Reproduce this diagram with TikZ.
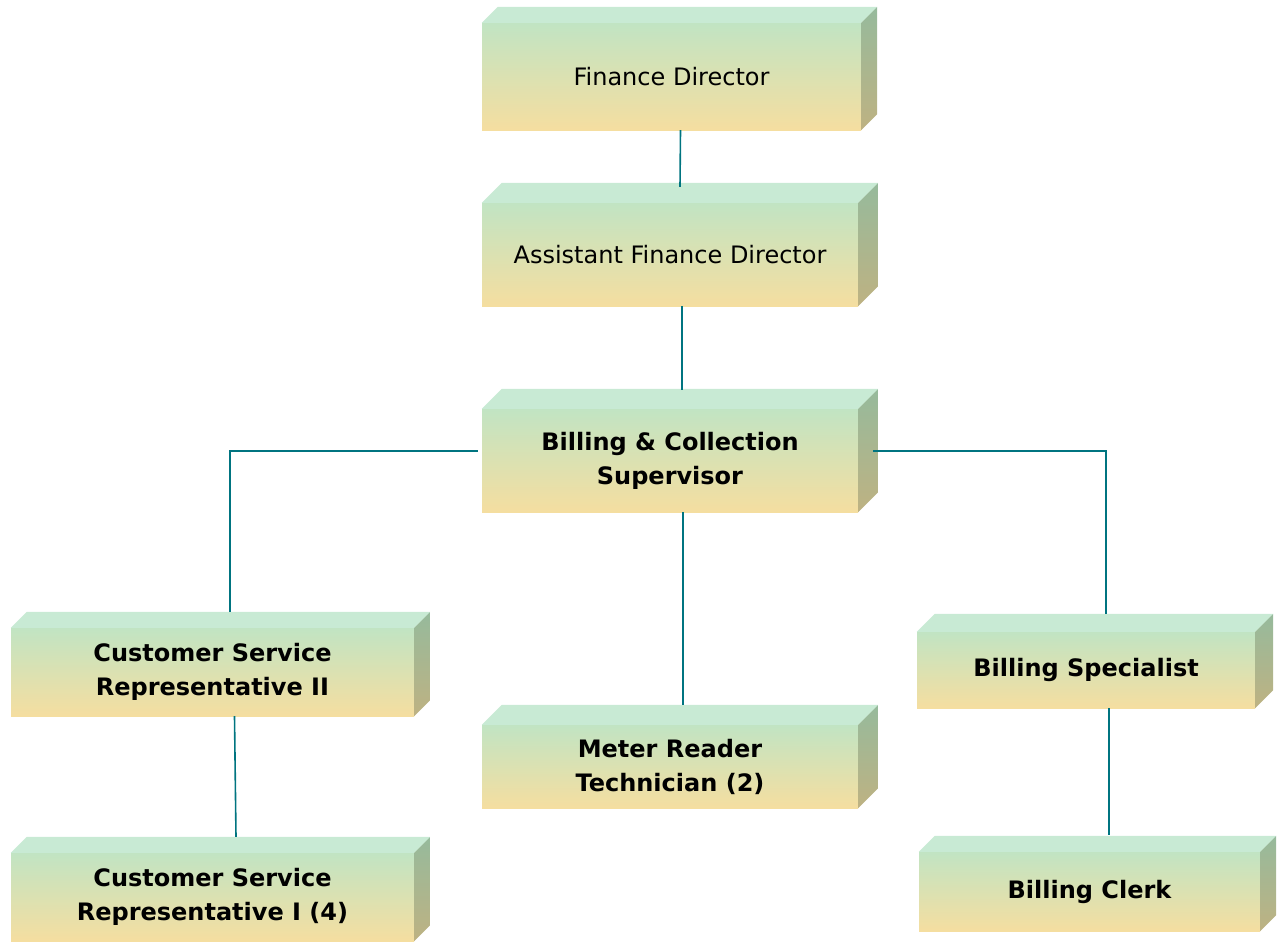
\documentclass[tikz,border=0pt]{standalone}
\usepackage{fontspec}
\setmainfont{DejaVu Sans}
\definecolor{frontTop}{RGB}{193,228,195}
\definecolor{frontBot}{RGB}{245,222,160}
\definecolor{topFace}{RGB}{200,234,212}
\definecolor{sideTop}{RGB}{150,186,156}
\definecolor{sideBot}{RGB}{190,178,130}
\definecolor{linkteal}{RGB}{0,116,128}
\tikzset{
  post/.style={shade,top color=frontTop,bottom color=frontBot,align=center,inner sep=0pt,
    font=\fontsize{24}{34}\selectfont},
  link/.style={draw=linkteal,line width=1.6pt}
}
% nome, x, y, larghezza, altezza, profondita, testo
\newcommand\postbox[7]{%
  \node[post,minimum width=#4pt,minimum height=#5pt] (#1) at (#2,#3) {#7};
  \fill[topFace] (#1.north west) -- ++(#6,-#6) -- ([shift={(#6,-#6)}]#1.north east) -- (#1.north east) -- cycle;
  \shade[top color=sideTop,bottom color=sideBot] (#1.north east) -- ++(#6,-#6)
    -- ([shift={(#6,-#6)}]#1.south east) -- (#1.south east) -- cycle;
}
\begin{document}
\begin{tikzpicture}[x=1pt,y=-1pt]
  \useasboundingbox (0,0) rectangle (1278,943);
  %caselle
  \postbox{fd}{671.5}{76.5}{379}{107}{16}{Finance Director}
  \postbox{afd}{670}{254.5}{376}{103}{20}{Assistant Finance Director}
  \postbox{bcs}{670}{460.5}{376}{103}{20}{\bfseries Billing \& Collection\\\bfseries Supervisor}
  \postbox{csr2}{212.5}{672}{403}{88}{16}{\bfseries Customer Service\\\bfseries Representative II}
  \postbox{csr1}{212.5}{897}{403}{88}{16}{\bfseries Customer Service\\\bfseries Representative I (4)}
  \postbox{mrt}{670}{766.5}{376}{83}{20}{\bfseries Meter Reader\\\bfseries Technician (2)}
  \postbox{bs}{1086}{670}{338}{76}{18}{\bfseries Billing Specialist}
  \postbox{bc}{1089.5}{891.5}{341}{79}{16}{\bfseries Billing Clerk}
  %collegamenti
  \draw[link] ([xshift=9pt]fd.south) -- ([xshift=10pt,yshift=16pt]afd.north);
  \draw[link] ([xshift=12pt]afd.south) -- ([xshift=12pt,yshift=19pt]bcs.north);
  \draw[link] ([xshift=-4pt,yshift=9.5pt]bcs.west) -| ([xshift=17.5pt,yshift=16pt]csr2.north);
  \draw[link] ([xshift=15pt,yshift=9.5pt]bcs.east) -| ([xshift=20pt,yshift=18pt]bs.north);
  \draw[link] ([xshift=13pt]bcs.south) -- ([xshift=13pt,yshift=20pt]mrt.north);
  \draw[link] ([xshift=22pt]csr2.south) -- ([xshift=23.5pt,yshift=16pt]csr1.north);
  \draw[link] ([xshift=23pt]bs.south) -- ([xshift=19.5pt,yshift=17pt]bc.north);
\end{tikzpicture}
\end{document}
